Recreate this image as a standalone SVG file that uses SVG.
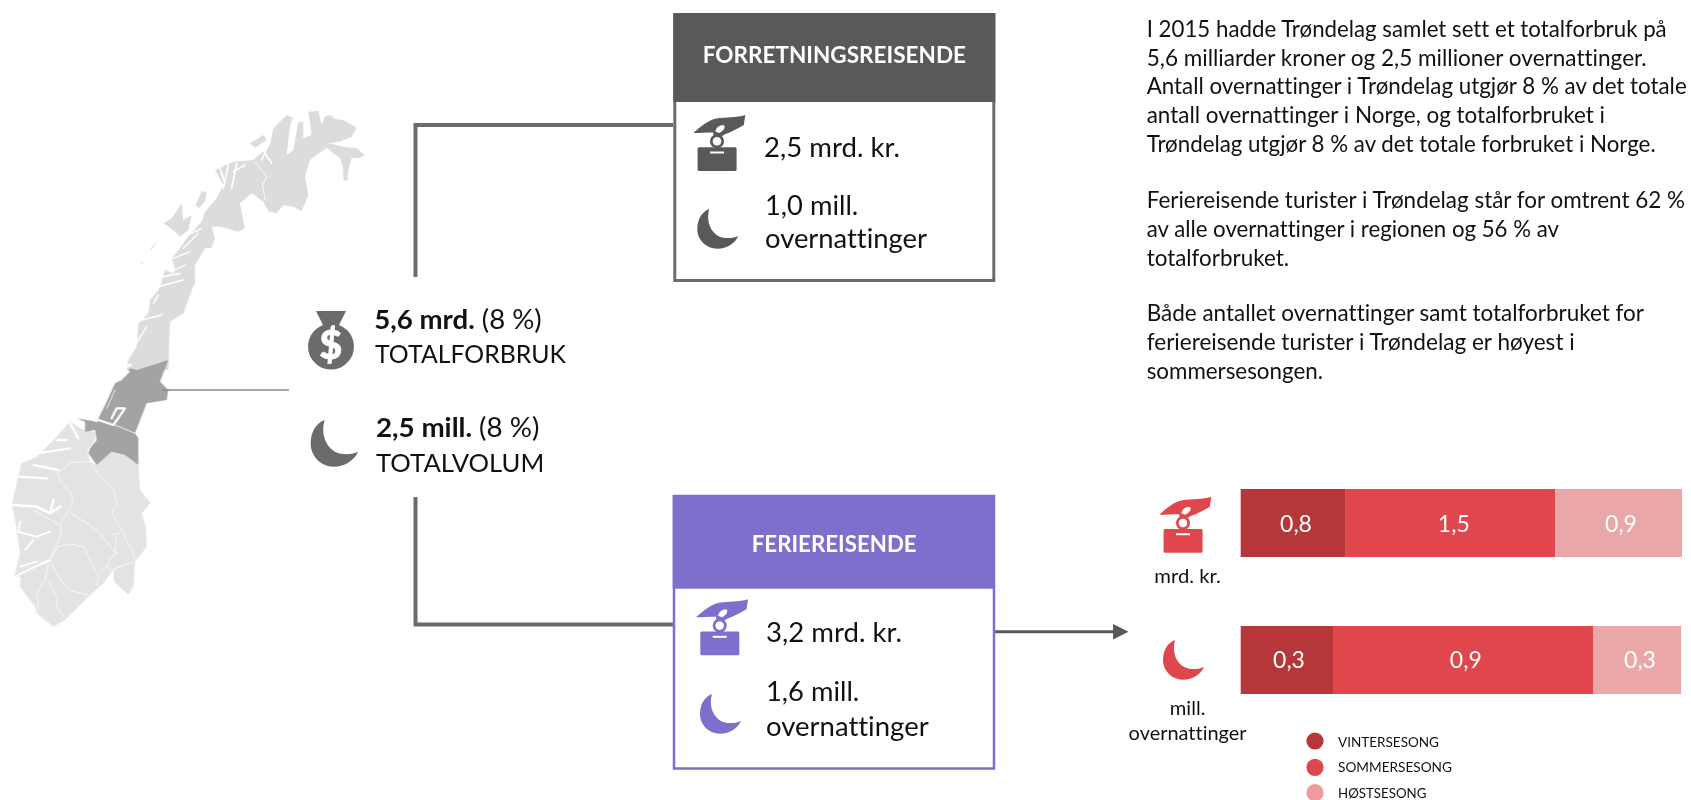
<svg xmlns="http://www.w3.org/2000/svg" xmlns:xlink="http://www.w3.org/1999/xlink" width="1691" height="800" viewBox="0 0 1691 800">
<style>
text{font-family:"Lato","Carlito","Open Sans","Liberation Sans",sans-serif;fill:#111;font-variant-ligatures:none}
.n{font-size:26px}
.c{font-size:24.5px}
.b{font-weight:700}
.h{font-size:22px;font-weight:700;fill:#fff}
.p{font-size:22.3px}
.u{font-size:18.4px;text-anchor:middle}
.v{font-size:23px;fill:#fff;text-anchor:middle}
.l{font-size:13px}
.fj{fill:none;stroke:#fff;stroke-linecap:round;stroke-linejoin:round}
.cl{fill:none;stroke:#f8f8f8;stroke-width:3;stroke-linejoin:round}
</style>
<defs>
<filter id="soft" x="-5%" y="-5%" width="110%" height="110%"><feGaussianBlur stdDeviation=".6"/></filter>
<symbol id="hand" overflow="visible" viewBox="0 0 52 56" width="52" height="56">
<path d="M0,18C8,11 15,5 23,3.500C33,2 43,3 52,0L50.500,10C45,13 38,17 31,19.500L29,21L20,20L20,17.500C13,17.500 6,18 0,18Z"/>
<path fill="#fff" d="M22,16.500C23,12 27,9.500 31,10.500C32,13 30,16 26,18Z"/>
<path fill-rule="evenodd" d="M23.700,19.300a7,7 0 1 0 .01,0Z M23.700,22a4.300,4.300 0 1 1 -.01,0Z"/>
<rect x="4.300" y="32.300" width="39" height="23.700" rx="1.500"/>
<rect x="16.700" y="36.500" width="14" height="2" fill="#fff"/>
</symbol>
<symbol id="moon" overflow="visible" viewBox="0 0 41 40" width="41" height="40">
<path d="M12,0C4,3 0,11 0,20C0,31 9,39.700 20,39.700C30,39.700 38,34 41,27C35,29.500 30,29.500 25,28.500C15,26 8,14 12,0Z"/>
</symbol>
</defs>

<g id="map" filter="url(#soft)">
<g transform="translate(130,105) scale(.33333)" fill="#dcdcdc">
<path d="M585,35L600,30L615,42L640,45L680,68L665,95L630,110L595,115L640,125L680,130L705,150L690,158L665,160L655,195L652,228L640,225L640,190L630,160L590,128L560,150L540,165L525,215L535,270L515,318L490,305L460,300L440,325L415,318L400,290L365,265L330,295L345,370L325,380L270,365L245,365L255,400L245,428L225,430L195,480L195,540L105,540L130,510L135,490L125,460L150,430L170,400L215,350L225,320L260,280L280,240L255,195L310,170L370,165L420,120L430,70L470,30L490,40L480,60L470,150L490,135L505,50L520,50L520,100L545,90L535,20L565,18L575,60Z"/>
<path d="M197,300L215,258L230,262L225,290L205,310Z M100,355L125,340L155,295L160,345L185,330L175,375L150,395L130,375Z M65,425L85,405L55,445Z M30,478L38,470L36,478Z M360,115L400,90L410,105L375,128Z"/>
<g class="fj">
<path stroke-width="5" d="M270,190L285,235M295,180L280,250M320,175L305,250M345,180L310,200M395,130L425,175M415,120L395,165"/>
<path stroke-width="4" d="M160,430L205,385M185,385L215,370M130,460L180,440M125,500L165,480"/>
</g>
<path class="cl" d="M375,170L410,215L398,240L405,285"/>
</g>
<g transform="translate(120,270) scale(.33333)" fill="#dcdcdc">
<path d="M135,0L225,35L190,130L150,155L145,300L20,300L25,270L50,230L55,160L85,130L90,90L115,60L125,35Z"/>
<path class="fj" stroke-width="5" d="M115,50L190,30M130,20L180,10M65,150L125,135M45,225L80,170M100,100L115,75"/>
</g>
<g transform="translate(0,350) scale(.33333)">
<path fill="#e3e3e3" d="M285,245L285,270L262,300L270,335L290,345L335,305L375,315L415,345L420,420L452,458L425,490L437,530L440,590L405,635L400,710L385,735L342,695L340,660L310,700L265,740L195,810L160,830L110,790L105,770L60,710L62,680L42,680L60,610L45,510L35,465L55,375L65,340L110,320L160,270L210,215L250,240Z"/>
<path fill="#a3a3a3" d="M410,60L505,30L480,95L505,120L500,150L440,160L405,250L415,265L415,345L375,315L335,305L290,345L265,310L270,295L290,270L285,240L255,245L255,215L230,205L290,215L315,165L345,100L355,95L390,55Z"/>
<g class="fj">
<path stroke-width="7" d="M295,210L340,225L375,175L350,175L335,205"/>
<path stroke-width="2.500" d="M345,225L405,250M345,120L320,175"/>
<path stroke-width="7" d="M350,55L392,45M360,90L385,65"/>
<path stroke-width="7" d="M240,185L290,213M210,220L235,265"/>
<path stroke-width="7" d="M100,345L175,360M55,380L140,385M110,310L210,295M170,270L200,270"/>
<path stroke-width="8" d="M40,465L110,470L150,490L160,450M150,490L180,470"/>
<path stroke-width="6" d="M60,515L55,545L110,560L150,545M75,600L100,570M45,680L105,650L150,630M60,650L110,635"/>
</g>
<g class="cl">
<path d="M172,370L215,337L270,335L300,380L340,415L350,460L335,490L365,540L400,610L405,635"/>
<path d="M172,370L185,400L215,430L218,460L180,525"/>
<path d="M212,490L270,525L300,550L330,590L350,610L330,625L320,650L295,670L290,710"/>
<path d="M185,525L180,560L150,630L175,680L205,720L265,735"/>
<path d="M150,625L175,590L210,582L250,590L290,670"/>
<path d="M340,553L362,548M350,560L345,600L352,612M320,650L335,660L400,635"/>
<path d="M145,640L135,690L112,730L115,790M145,690L170,740L170,770L195,805"/>
<path d="M100,480L180,525"/>
</g>
</g>
</g>

<g id="connectors">
<path d="M162,390H289" fill="none" stroke="#8a8a8a" stroke-width="1.500"/>
<path d="M415.500,277V125H673" fill="none" stroke="#6b6b6b" stroke-width="4"/>
<path d="M415.500,497V624.500H673" fill="none" stroke="#6b6b6b" stroke-width="4"/>
<path d="M995,631.700H1113" fill="none" stroke="#58595b" stroke-width="3"/>
<polygon points="1113,624 1128.500,631.700 1113,639.500" fill="#58595b"/>
</g>

<g id="total-spend">
<path fill="#6b6b6b" d="M316,311H346L339,325A23,23 0 1 1 323,325Z"/>
<text x="330.700" y="359" text-anchor="middle" style="font-size:39px;font-weight:900;fill:#fff;stroke:#fff;stroke-width:.8">$</text>
<text class="n" x="374.300" y="329" textLength="167.400" lengthAdjust="spacingAndGlyphs"><tspan class="b">5,6 mrd.</tspan> (8 %)</text>
<text class="c" x="375" y="363.300" textLength="191" lengthAdjust="spacingAndGlyphs">TOTALFORBRUK</text>
</g>
<g id="total-volume">
<use xlink:href="#moon" href="#moon" transform="translate(310.700,420) scale(1.155,1.176)" fill="#6b6b6b"/>
<text class="n" x="376" y="436.700" textLength="163.300" lengthAdjust="spacingAndGlyphs"><tspan class="b">2,5 mill.</tspan> (8 %)</text>
<text class="c" x="376" y="471.700" textLength="168.300" lengthAdjust="spacingAndGlyphs">TOTALVOLUM</text>
</g>

<g id="forretningsreisende">
<rect x="674.800" y="15" width="319" height="265.500" fill="#fff" stroke="#6b6b6b" stroke-width="3"/>
<rect x="673.300" y="13" width="322" height="89" fill="#58595b"/>
<text class="h" x="702.700" y="62.500" textLength="263.300" lengthAdjust="spacingAndGlyphs">FORRETNINGSREISENDE</text>
<use xlink:href="#hand" href="#hand" x="693.300" y="115" fill="#58595b"/>
<text class="n" x="764" y="156.700" textLength="136" lengthAdjust="spacingAndGlyphs">2,5 mrd. kr.</text>
<use xlink:href="#moon" href="#moon" x="697.300" y="209" fill="#58595b"/>
<text class="n" x="765" y="215" textLength="93.300" lengthAdjust="spacingAndGlyphs">1,0 mill.</text>
<text class="n" x="765" y="248" textLength="162" lengthAdjust="spacingAndGlyphs">overnattinger</text>
</g>

<g id="feriereisende">
<rect x="674" y="496" width="320" height="272.500" fill="#fff" stroke="#7d6fcb" stroke-width="2.500"/>
<rect x="672.700" y="495" width="322.300" height="93.700" fill="#7d6fcb"/>
<text class="h" x="751.700" y="551.700" textLength="165" lengthAdjust="spacingAndGlyphs">FERIEREISENDE</text>
<use xlink:href="#hand" href="#hand" x="696" y="599.300" fill="#7d6fcb"/>
<text class="n" x="766" y="641.700" textLength="136" lengthAdjust="spacingAndGlyphs">3,2 mrd. kr.</text>
<use xlink:href="#moon" href="#moon" x="700" y="694" fill="#7d6fcb"/>
<text class="n" x="766" y="700.700" textLength="93.300" lengthAdjust="spacingAndGlyphs">1,6 mill.</text>
<text class="n" x="766" y="736" textLength="162.700" lengthAdjust="spacingAndGlyphs">overnattinger</text>
</g>

<g id="summary">
<text class="p" x="1146.700" y="36.700" textLength="520" lengthAdjust="spacingAndGlyphs">I 2015 hadde Trøndelag samlet sett et totalforbruk på</text>
<text class="p" x="1146.700" y="65.700" textLength="500" lengthAdjust="spacingAndGlyphs">5,6 milliarder kroner og 2,5 millioner overnattinger.</text>
<text class="p" x="1146.700" y="94.300" textLength="540" lengthAdjust="spacingAndGlyphs">Antall overnattinger i Trøndelag utgjør 8 % av det totale</text>
<text class="p" x="1146.700" y="123" textLength="458.300" lengthAdjust="spacingAndGlyphs">antall overnattinger i Norge, og totalforbruket i</text>
<text class="p" x="1146.700" y="151.700" textLength="509" lengthAdjust="spacingAndGlyphs">Trøndelag utgjør 8 % av det totale forbruket i Norge.</text>
<text class="p" x="1146.700" y="207.700" textLength="538.300" lengthAdjust="spacingAndGlyphs">Feriereisende turister i Trøndelag står for omtrent 62 %</text>
<text class="p" x="1146.700" y="236.700" textLength="412.300" lengthAdjust="spacingAndGlyphs">av alle overnattinger i regionen og 56 % av</text>
<text class="p" x="1146.700" y="266" textLength="142.300" lengthAdjust="spacingAndGlyphs">totalforbruket.</text>
<text class="p" x="1146.700" y="320.700" textLength="497.300" lengthAdjust="spacingAndGlyphs">Både antallet overnattinger samt totalforbruket for</text>
<text class="p" x="1146.700" y="350" textLength="428" lengthAdjust="spacingAndGlyphs">feriereisende turister i Trøndelag er høyest i</text>
<text class="p" x="1146.700" y="379" textLength="176.300" lengthAdjust="spacingAndGlyphs">sommersesongen.</text>
</g>

<g id="chart-spend">
<use xlink:href="#hand" href="#hand" x="1159.300" y="496.700" fill="#e0474c"/>
<text class="u" x="1187.600" y="582.700" textLength="66.500" lengthAdjust="spacingAndGlyphs">mrd. kr.</text>
<rect x="1240.700" y="489" width="105.100" height="68" fill="#b5373a"/>
<rect x="1345.800" y="489" width="209.500" height="68" fill="#e0474c"/>
<rect x="1555.300" y="489" width="126.700" height="68" fill="#eaa7a8"/>
<text class="v" x="1296" y="531.700">0,8</text>
<text class="v" x="1453.800" y="531.700">1,5</text>
<text class="v" x="1621" y="531.700">0,9</text>
</g>
<g id="chart-nights">
<use xlink:href="#moon" href="#moon" x="1163" y="640" fill="#e0474c"/>
<text class="u" x="1187.600" y="715" textLength="35.600" lengthAdjust="spacingAndGlyphs">mill.</text>
<text class="u" x="1187.600" y="740" textLength="118" lengthAdjust="spacingAndGlyphs">overnattinger</text>
<rect x="1240.700" y="626" width="93.100" height="68" fill="#b5373a"/>
<rect x="1333.800" y="626" width="259.700" height="68" fill="#e0474c"/>
<rect x="1593.500" y="626" width="87.500" height="68" fill="#eaa7a8"/>
<text class="v" x="1289" y="668">0,3</text>
<text class="v" x="1465.800" y="668">0,9</text>
<text class="v" x="1640" y="668">0,3</text>
</g>
<g id="legend">
<circle cx="1315" cy="741" r="8.600" fill="#b5373a"/>
<circle cx="1315" cy="767.300" r="8.600" fill="#e0474c"/>
<circle cx="1315" cy="792.700" r="8.600" fill="#ef9a9d"/>
<text class="l" x="1338" y="747.300" textLength="101" lengthAdjust="spacingAndGlyphs">VINTERSESONG</text>
<text class="l" x="1338" y="772.300" textLength="114" lengthAdjust="spacingAndGlyphs">SOMMERSESONG</text>
<text class="l" x="1338" y="798" textLength="88.400" lengthAdjust="spacingAndGlyphs">HØSTSESONG</text>
</g>
</svg>
